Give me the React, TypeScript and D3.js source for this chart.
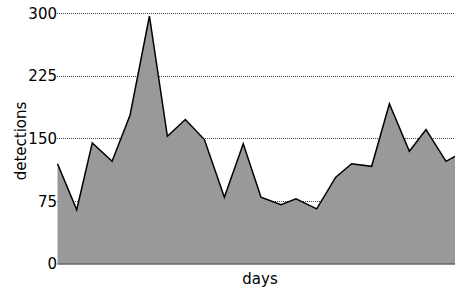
import { useEffect, useRef } from 'react';
import * as d3 from 'd3';

const days = [0, 1.04, 1.88, 2.95, 3.92, 4.97, 5.94, 6.91, 7.94, 9.02, 10.04, 11, 12.08, 12.89, 14.01, 15.04, 15.9, 16.98, 17.94, 19.02, 19.92, 21, 22];
const detections = [120, 65, 145, 123, 178, 297, 153, 173, 149, 80, 144, 80, 71, 78, 66, 104, 120, 117, 192, 135, 161, 123, 135];
const yTicks = [0, 75, 150, 225, 300];

export default function App() {
  const svgRef = useRef<SVGSVGElement>(null);

  useEffect(() => {
    if (!svgRef.current) return;
    const width = 455;
    const height = 290;
    const margin = { top: 13.5, right: -9.5, bottom: 26, left: 57.5 };
    const w = width - margin.left - margin.right;
    const h = height - margin.top - margin.bottom;

    const svg = d3.select(svgRef.current);
    svg.selectAll('*').remove();

    const g = svg.append('g').attr('transform', `translate(${margin.left},${margin.top})`);

    const x = d3.scaleLinear().domain([0, 22]).range([0, w]);
    const y = d3.scaleLinear().domain([0, 300]).range([h, 0]);

    const data = days.map((d, i) => ({ day: d, value: detections[i] }));

    // Grid (dotted, pixel aligned)
    g.append('g')
      .selectAll('line')
      .data(yTicks.filter(t => t > 0))
      .join('line')
      .attr('x1', -0.5).attr('x2', w)
      .attr('y1', d => Math.round(y(d) + margin.top - 0.5) + 0.5 - margin.top)
      .attr('y2', d => Math.round(y(d) + margin.top - 0.5) + 0.5 - margin.top)
      .attr('stroke', '#444')
      .attr('stroke-width', 1)
      .attr('shape-rendering', 'crispEdges')
      .attr('stroke-dasharray', '1,1');

    // Area + line
    const area = d3.area<{ day: number; value: number }>()
      .x(d => x(d.day))
      .y0(h)
      .y1(d => y(d.value));
    const line = d3.line<{ day: number; value: number }>()
      .x(d => x(d.day))
      .y(d => y(d.value));

    g.append('path').datum(data).attr('fill', '#999999').attr('d', area);
    g.append('path')
      .datum(data)
      .attr('fill', 'none')
      .attr('stroke', '#000')
      .attr('stroke-width', 1.5)
      .attr('stroke-linejoin', 'miter')
      .attr('d', line);

    // Baseline
    g.append('line')
      .attr('x1', 0).attr('x2', w)
      .attr('y1', h).attr('y2', h)
      .attr('stroke', '#666')
      .attr('stroke-width', 1.5);

    // Y tick labels
    g.append('g')
      .selectAll('text')
      .data(yTicks)
      .join('text')
      .attr('x', -0.5)
      .attr('y', d => y(d))
      .attr('dy', '0.35em')
      .attr('text-anchor', 'end')
      .attr('font-size', '15px')
      .attr('font-family', 'DejaVu Sans, sans-serif')
      .attr('fill', '#000')
      .text(d => String(d));

    // Axis titles
    svg.append('text')
      .attr('transform', 'translate(25.5,141) rotate(-90)')
      .attr('text-anchor', 'middle')
      .attr('font-size', '15px')
      .attr('font-family', 'DejaVu Sans, sans-serif')
      .text('detections');

    svg.append('text')
      .attr('x', 260)
      .attr('y', 284)
      .attr('text-anchor', 'middle')
      .attr('font-size', '15px')
      .attr('font-family', 'DejaVu Sans, sans-serif')
      .text('days');
  }, []);

  return (
    <svg
      ref={svgRef}
      width={455}
      height={290}
      style={{ position: 'absolute', left: 0, top: 0, background: '#fff' }}
    />
  );
}
